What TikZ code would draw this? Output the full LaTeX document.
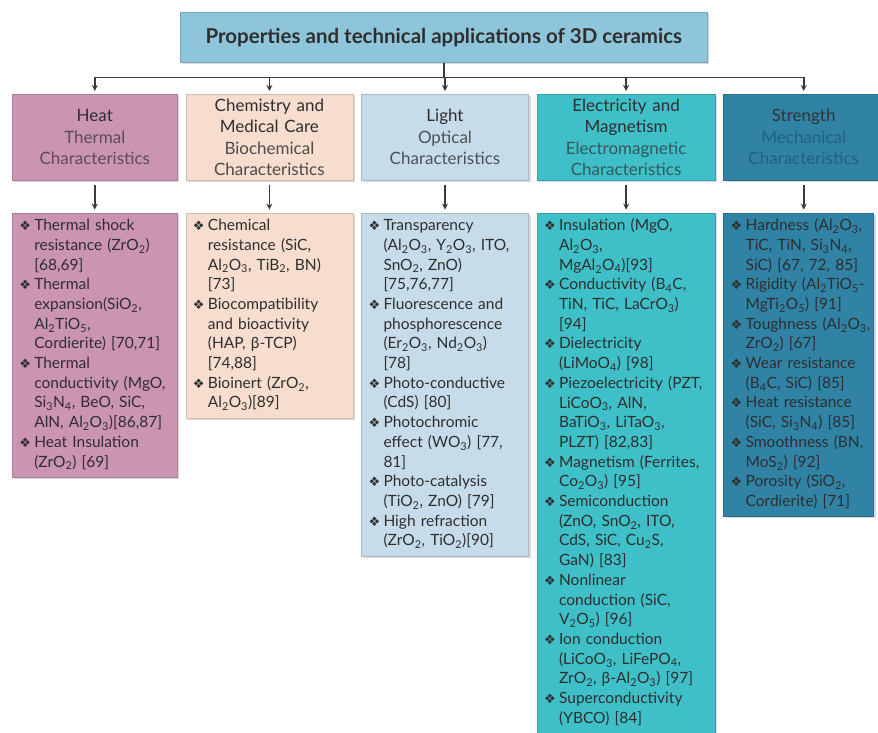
\documentclass[tikz,border=0pt]{standalone}
\usepackage{fontspec}
\setmainfont{Lato}
\newfontfamily\dingfont{DejaVu Sans}
\usetikzlibrary{arrows.meta,positioning,shadows}
\setlength{\parindent}{0pt}

\definecolor{titlec}{HTML}{8EC5DA}
\definecolor{heatc}{HTML}{CB94B3}
\definecolor{chemc}{HTML}{F7DDCE}
\definecolor{lightc}{HTML}{C7DCEA}
\definecolor{elecc}{HTML}{3FC0C8}
\definecolor{strc}{HTML}{3083A5}
\definecolor{txtc}{HTML}{2E2E2E}
\definecolor{linec}{HTML}{3A3A3A}
\definecolor{heatsub}{HTML}{5B4D57}
\definecolor{chemsub}{HTML}{4E4A48}
\definecolor{lightsub}{HTML}{4B5157}
\definecolor{elecsub}{HTML}{33595C}
\definecolor{strsub}{HTML}{22607E}

\newcommand{\sbs}[1]{\textsubscript{#1}}
\newcommand{\bul}{{\dingfont\fontsize{13}{13}\selectfont ❖}}
\newcommand{\bodyfont}{\fontsize{15.5}{19.7}\selectfont}
\newcommand{\headfont}{\fontsize{17}{21.5}\selectfont}

\begin{document}
\begin{tikzpicture}[x=1pt,y=1pt,
  box/.style={draw=#1!85!black, fill=#1, line width=0.6pt, text=txtc,
    drop shadow={opacity=0.3, shadow xshift=2pt, shadow yshift=-2pt}},
  head/.style={box=#1, minimum height=86pt, align=center, inner xsep=2pt, inner ysep=0pt, font=\headfont},
  list/.style={box=#1, align=left, inner xsep=7pt, inner ysep=4pt, font=\bodyfont},
  conn/.style={draw=linec, line width=1.6pt, -{Stealth[length=6pt,width=6pt]}, shorten >=3pt}]
  \useasboundingbox (0,0) rectangle (878,-732);

  \node [box=titlec, minimum width=527pt, minimum height=50pt, anchor=north west,
    font=\bfseries\fontsize{20.5}{24}\selectfont] (title) at (180,-12)
    {Properties and technical applications of 3D ceramics};

  \node [head=heatc, text width=161pt, anchor=north west] (heat) at (12,-94)
    {Heat\\ \color{heatsub}Thermal\\ Characteristics};
  \node [head=chemc, text width=163pt, right=8pt of heat] (chem)
    {Chemistry and\\ Medical Care\\ \color{chemsub}Biochemical\\ Characteristics};
  \node [head=lightc, text width=163pt, right=8pt of chem] (light)
    {Light\\ \color{lightsub}Optical\\ Characteristics};
  \node [head=elecc, text width=174pt, right=8pt of light] (elec)
    {Electricity and\\ Magnetism\\ \color{elecsub}Electromagnetic\\ Characteristics};
  \node [head=strc, text width=156pt, right=8pt of elec] (strength)
    {\color{black!80}Strength\\ \color{strsub}Mechanical\\ Characteristics};

  \node [list=heatc, text width=151pt, below=32pt of heat.south west, anchor=north west] (heatlist)
    {\begin{tabular}{@{}p{15pt}@{}l@{}}
      \bul & Thermal shock\\
      & resistance (ZrO\sbs{2})\\
      & [68,69]\\
      \bul & Thermal\\
      & expansion(SiO\sbs{2},\\
      & Al\sbs{2}TiO\sbs{5},\\
      & Cordierite) [70,71]\\
      \bul & Thermal\\
      & conductivity (MgO,\\
      & Si\sbs{3}N\sbs{4}, BeO, SiC,\\
      & AlN, Al\sbs{2}O\sbs{3})[86,87]\\
      \bul & Heat Insulation\\
      & (ZrO\sbs{2}) [69]
    \end{tabular}};
  \node [list=chemc, text width=153pt, below=32pt of chem.south west, anchor=north west] (chemlist)
    {\begin{tabular}{@{}p{15pt}@{}l@{}}
      \bul & Chemical\\
      & resistance (SiC,\\
      & Al\sbs{2}O\sbs{3}, TiB\sbs{2}, BN)\\
      & [73]\\
      \bul & Biocompatibility\\
      & and bioactivity\\
      & (HAP, β-TCP)\\
      & [74,88]\\
      \bul & Bioinert (ZrO\sbs{2},\\
      & Al\sbs{2}O\sbs{3})[89]
    \end{tabular}};
  \node [list=lightc, text width=153pt, below=32pt of light.south west, anchor=north west] (lightlist)
    {\begin{tabular}{@{}p{15pt}@{}l@{}}
      \bul & Transparency\\
      & (Al\sbs{2}O\sbs{3}, Y\sbs{2}O\sbs{3}, ITO,\\
      & SnO\sbs{2}, ZnO)\\
      & [75,76,77]\\
      \bul & Fluorescence and\\
      & phosphorescence\\
      & (Er\sbs{2}O\sbs{3}, Nd\sbs{2}O\sbs{3})\\
      & [78]\\
      \bul & Photo-conductive\\
      & (CdS) [80]\\
      \bul & Photochromic\\
      & effect (WO\sbs{3}) [77,\\
      & 81]\\
      \bul & Photo-catalysis\\
      & (TiO\sbs{2}, ZnO) [79]\\
      \bul & High refraction\\
      & (ZrO\sbs{2}, TiO\sbs{2})[90]
    \end{tabular}};
  \node [list=elecc, text width=164pt, below=32pt of elec.south west, anchor=north west] (eleclist)
    {\begin{tabular}{@{}p{15pt}@{}l@{}}
      \bul & Insulation (MgO,\\
      & Al\sbs{2}O\sbs{3},\\
      & MgAl\sbs{2}O\sbs{4})[93]\\
      \bul & Conductivity (B\sbs{4}C,\\
      & TiN, TiC, LaCrO\sbs{3})\\
      & [94]\\
      \bul & Dielectricity\\
      & (LiMoO\sbs{4}) [98]\\
      \bul & Piezoelectricity (PZT,\\
      & LiCoO\sbs{3}, AlN,\\
      & BaTiO\sbs{3}, LiTaO\sbs{3},\\
      & PLZT) [82,83]\\
      \bul & Magnetism (Ferrites,\\
      & Co\sbs{2}O\sbs{3}) [95]\\
      \bul & Semiconduction\\
      & (ZnO, SnO\sbs{2}, ITO,\\
      & CdS, SiC, Cu\sbs{2}S,\\
      & GaN) [83]\\
      \bul & Nonlinear\\
      & conduction (SiC,\\
      & V\sbs{2}O\sbs{5}) [96]\\
      \bul & Ion conduction\\
      & (LiCoO\sbs{3}, LiFePO\sbs{4},\\
      & ZrO\sbs{2}, β-Al\sbs{2}O\sbs{3}) [97]\\
      \bul & Superconductivity\\
      & (YBCO) [84]
    \end{tabular}};
  \node [list=strc, text width=136pt, below=32pt of strength.south west, anchor=north west] (strlist)
    {\begin{tabular}{@{}p{15pt}@{}l@{}}
      \bul & Hardness (Al\sbs{2}O\sbs{3},\\
      & TiC, TiN, Si\sbs{3}N\sbs{4},\\
      & SiC) [67, 72, 85]\\
      \bul & Rigidity (Al\sbs{2}TiO\sbs{5}-\\
      & MgTi\sbs{2}O\sbs{5}) [91]\\
      \bul & Toughness (Al\sbs{2}O\sbs{3},\\
      & ZrO\sbs{2}) [67]\\
      \bul & Wear resistance\\
      & (B\sbs{4}C, SiC) [85]\\
      \bul & Heat resistance\\
      & (SiC, Si\sbs{3}N\sbs{4}) [85]\\
      \bul & Smoothness (BN,\\
      & MoS\sbs{2}) [92]\\
      \bul & Porosity (SiO\sbs{2},\\
      & Cordierite) [71]
    \end{tabular}};

  \path (title.south) ++(0,-15) coordinate (bus);
  \draw [draw=linec, line width=1.6pt] (title.south) -- (bus);
  \foreach \n in {heat,chem,light,elec,strength}
    \draw [conn] (bus) -| (\n.north);
  \foreach \n/\m in {heat/heatlist,chem/chemlist,light/lightlist,elec/eleclist,strength/strlist}
    \draw [conn, shorten <=4pt] (\n.south) -- (\n.south |- \m.north);
\end{tikzpicture}
\end{document}
